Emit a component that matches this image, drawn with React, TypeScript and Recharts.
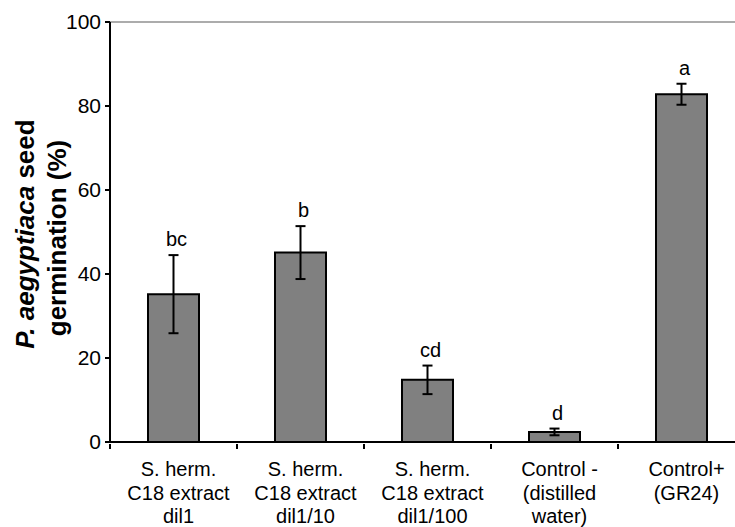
import React from 'react';
import { BarChart, Bar, XAxis, YAxis, ErrorBar, LabelList, ReferenceLine } from 'recharts';

const categories = [
  ['S. herm.', 'C18 extract', 'dil1'],
  ['S. herm.', 'C18 extract', 'dil1/10'],
  ['S. herm.', 'C18 extract', 'dil1/100'],
  ['Control -', '(distilled', 'water)'],
  ['Control+', '(GR24)'],
];
const germination = [35.2, 45.1, 14.8, 2.4, 82.8];
const errors = [9.3, 6.3, 3.4, 0.8, 2.5];
const letters = ['bc', 'b', 'cd', 'd', 'a'];
const yTicks = [0, 20, 40, 60, 80, 100];

const data = categories.map((c, i) => ({
  name: c.join(' '),
  value: germination[i],
  err: errors[i],
  letter: letters[i],
}));

const FONT = '"Liberation Sans", Arial, sans-serif';

// multi-line category label, plus tick marks between categories (Excel style)
const XTick = (props: any) => {
  const { x, y, index, payload, visibleTicksCount } = props;
  const lines = categories[index] || [];
  const half = payload && payload.offset ? payload.offset : 63.5;
  const axisY = y - 8;
  return (
    <g>
      <line x1={x - half} x2={x - half} y1={axisY} y2={axisY + 5} stroke="#000" strokeWidth={2} />
      {index === visibleTicksCount - 1 && (
        <line x1={x + half} x2={x + half} y1={axisY} y2={axisY + 5} stroke="#000" strokeWidth={2} />
      )}
      {lines.map((line, i) => (
        <text
          key={i}
          x={x + 5}
          y={y + 24 + i * 23.5}
          textAnchor="middle"
          fontSize={20}
          fontFamily={FONT}
          fill="#000"
        >
          {line}
        </text>
      ))}
    </g>
  );
};

// letter sits just above the top of the error bar
const LetterLabel = (props: any) => {
  const { x, y, width, height, index } = props;
  const v = germination[index];
  const perUnit = v ? height / v : 0;
  const top = y - errors[index] * perUnit;
  return (
    <text
      x={x + width / 2 + 3}
      y={top - 9}
      textAnchor="middle"
      fontSize={20}
      fontFamily={FONT}
      fill="#000"
    >
      {letters[index]}
    </text>
  );
};

const YTitle = () => (
  <g fontFamily={FONT} fontWeight="bold" fontSize={26} fill="#000">
    <text x={34} y={234} textAnchor="middle" transform="rotate(-90, 34, 234)">
      <tspan fontStyle="italic">P. aegyptiaca</tspan>
      <tspan> seed</tspan>
    </text>
    <text x={66} y={238} textAnchor="middle" transform="rotate(-90, 66, 238)">
      germination (%)
    </text>
  </g>
);

export default function App() {
  return (
    <div style={{ position: 'absolute', left: 0, top: 0, width: 735, height: 527, overflow: 'hidden', background: '#fff' }}>
      <BarChart
        width={750}
        height={527}
        data={data}
        margin={{ top: 22, right: 5, bottom: 0, left: 0 }}
        barSize={51}
      >
        <ReferenceLine y={100} stroke="#909090" strokeWidth={1.5} />
        <XAxis
          dataKey="name"
          height={85}
          interval={0}
          tickSize={8}
          axisLine={{ stroke: '#000', strokeWidth: 2 }}
          tickLine={false}
          tick={<XTick />}
        />
        <YAxis
          width={110}
          domain={[0, 100]}
          ticks={yTicks}
          interval={0}
          tickSize={5}
          tickMargin={4}
          axisLine={{ stroke: '#000', strokeWidth: 2 }}
          tickLine={{ stroke: '#000', strokeWidth: 2 }}
          tick={{ fill: '#000', fontSize: 21, fontFamily: FONT }}
          label={{ content: () => <YTitle /> }}
        />
        <Bar dataKey="value" fill="#808080" stroke="#000" strokeWidth={2} isAnimationActive={false}>
          <ErrorBar dataKey="err" width={5} stroke="#000" strokeWidth={2} direction="y" />
          <LabelList dataKey="letter" content={<LetterLabel />} />
        </Bar>
      </BarChart>
    </div>
  );
}
